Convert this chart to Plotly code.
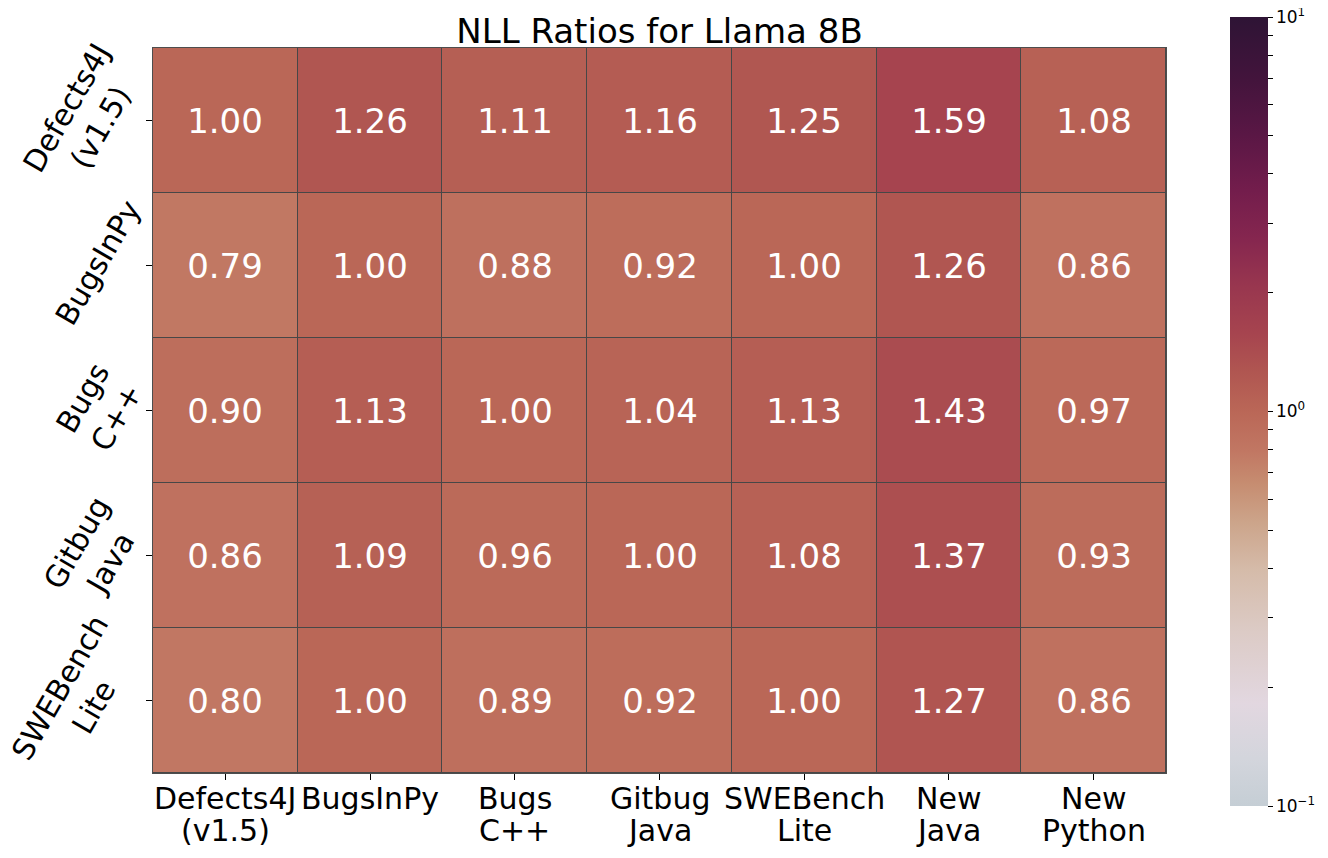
import numpy as np
import plotly.graph_objects as go

title = "NLL Ratios for Llama 8B"
x_labels = ["Defects4J<br>(v1.5)", "BugsInPy", "Bugs<br>C++", "Gitbug<br>Java",
            "SWEBench<br>Lite", "New<br>Java", "New<br>Python"]
y_labels = ["Defects4J<br>(v1.5)", "BugsInPy", "Bugs<br>C++", "Gitbug<br>Java",
            "SWEBench<br>Lite"]

row_defects4j = [1.00, 1.26, 1.11, 1.16, 1.25, 1.59, 1.08]
row_bugsinpy = [0.79, 1.00, 0.88, 0.92, 1.00, 1.26, 0.86]
row_bugscpp = [0.90, 1.13, 1.00, 1.04, 1.13, 1.43, 0.97]
row_gitbug = [0.86, 1.09, 0.96, 1.00, 1.08, 1.37, 0.93]
row_swebench = [0.80, 1.00, 0.89, 0.92, 1.00, 1.27, 0.86]

values = np.array([row_defects4j, row_bugsinpy, row_bugscpp, row_gitbug, row_swebench])
z = np.log10(values)
text = [[f"{v:.2f}" for v in row] for row in values]

colorscale = [
    [0.00, "#c5ced5"],
    [0.06, "#d3d5dc"],
    [0.13, "#e2d7e0"],
    [0.22, "#dccbc6"],
    [0.30, "#d5bba9"],
    [0.36, "#cca48a"],
    [0.41, "#c68c70"],
    [0.45, "#c17763"],
    [0.50, "#ba6757"],
    [0.55, "#b05651"],
    [0.60, "#a6444f"],
    [0.66, "#98364f"],
    [0.72, "#85264f"],
    [0.78, "#731d4c"],
    [0.85, "#5a1745"],
    [0.92, "#43143c"],
    [1.00, "#2e1435"],
]

major = [-0.99999, 0, 0.99999]
minor = [np.log10(m * 10.0 ** e) for e in (-1, 0) for m in range(2, 10)]
cb_vals = major + minor
cb_text = ["10<sup>−1</sup>", "10<sup>0</sup>", "10<sup>1</sup>"] + [""] * len(minor)

W, H = 1320, 850
L, R, T, B = 145, 162, 40, 85
plot_w = W - L - R
plot_h = H - T - B

# label centre positions (figure pixels) for the rotated row labels
ylab_cx = [75, 90, 91, 85, 68]

fig = go.Figure(go.Heatmap(
    z=z, x=list(range(len(x_labels))), y=list(range(len(y_labels))),
    text=text, texttemplate="%{text}",
    textfont=dict(size=34, color="white", family="DejaVu Sans"),
    colorscale=colorscale, zmin=-1, zmax=1, xgap=1, ygap=1,
    hoverinfo="skip",
    colorbar=dict(
        tickmode="array", tickvals=cb_vals, ticktext=cb_text, ticks="outside", ticklen=5,
        tickcolor="black", tickfont=dict(size=17, family="DejaVu Sans", color="black"),
        ticklabeloverflow="allow",
        thickness=38, thicknessmode="pixels", lenmode="pixels", len=789,
        xref="paper", x=(1222 - L) / plot_w, xanchor="left",
        yref="paper", y=(765 - 403.5) / plot_h, yanchor="middle",
        outlinewidth=0, xpad=0, ypad=0,
    ),
))

annotations = []
for i, lab in enumerate(y_labels):
    annotations.append(dict(
        text=lab, x=(ylab_cx[i] - L) / plot_w, xref="paper", y=i, yref="y",
        xanchor="center", yanchor="middle", yshift=3, textangle=-60, showarrow=False,
        font=dict(size=30, family="DejaVu Sans", color="black"), align="center"))

line_offsets = [25, 57]
for i, lab in enumerate(x_labels):
    for k, part in enumerate(lab.split("<br>")):
        annotations.append(dict(
            text=part, x=i, xref="x", y=-line_offsets[k] / plot_h, yref="paper",
            xanchor="center", yanchor="middle", showarrow=False,
            font=dict(size=30, family="DejaVu Sans", color="black")))

fig.update_layout(
    width=W, height=H,
    margin=dict(l=L, r=R, t=T, b=B, autoexpand=False),
    paper_bgcolor="white", plot_bgcolor="#474747",
    title=dict(text=title, x=(L + plot_w / 2) / W, xanchor="center",
               y=1 - 23 / H, yanchor="middle",
               font=dict(size=34, family="DejaVu Sans", color="black")),
    font=dict(family="DejaVu Sans", color="black"),
    annotations=annotations,
)
fig.update_xaxes(tickmode="array", tickvals=list(range(len(x_labels))),
                 range=[-0.5, len(x_labels) - 0.5], showticklabels=False,
                 ticks="outside", ticklen=6, tickcolor="black", tickwidth=1,
                 showline=True, linecolor="#4d4d4d",
                 mirror=True, showgrid=False, zeroline=False, automargin=False)
fig.update_yaxes(tickmode="array", tickvals=list(range(len(y_labels))),
                 range=[len(y_labels) - 0.5, -0.5],
                 ticks="outside", ticklen=6, tickcolor="black", tickwidth=1,
                 showticklabels=False,
                 showline=True, linecolor="#4d4d4d", mirror=True,
                 showgrid=False, zeroline=False, automargin=False)

fig.write_html("out.html")
